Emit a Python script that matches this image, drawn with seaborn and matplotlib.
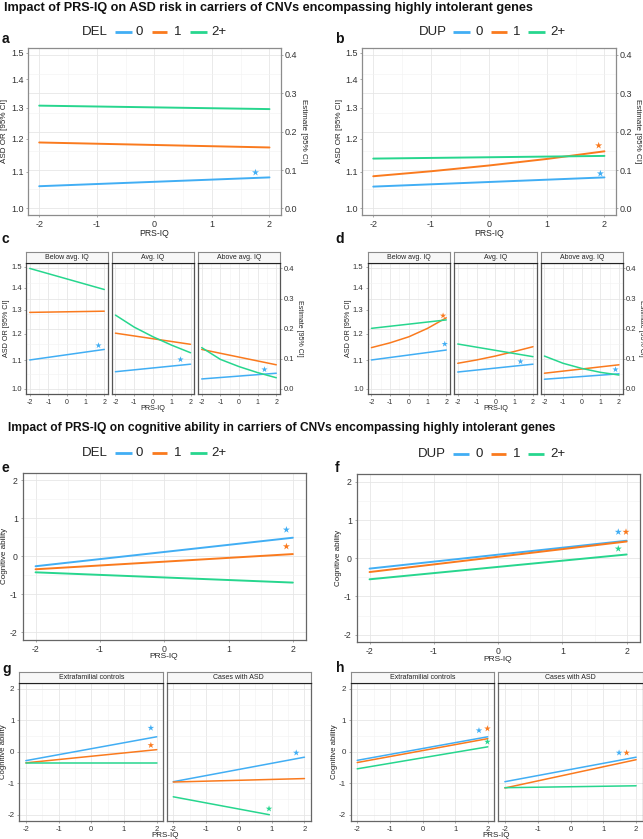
import numpy as np
import pandas as pd
import matplotlib
matplotlib.use("Agg")
import matplotlib.pyplot as plt
import seaborn as sns
from matplotlib.lines import Line2D

sns.set_theme(style="white")
plt.rcParams['font.family'] = ['Liberation Sans', 'DejaVu Sans']

# ---------------- data ----------------
GROUPS = ["0", "1", "2+"]
COLORS = ["#41AEF4", "#FA7A1E", "#27D68E"]
PAL = dict(zip(GROUPS, COLORS))

PRS2 = [-2, 2]
PRS5 = [-2, -1, 0, 1, 2]

OR_TICKS = [1.0, 1.1, 1.2, 1.3, 1.4, 1.5]
OR_LABELS = ["1.0", "1.1", "1.2", "1.3", "1.4", "1.5"]
EST_TICKS = [0.0, 0.1, 0.2, 0.3, 0.4]
EST_LABELS = ["0.0", "0.1", "0.2", "0.3", "0.4"]
PRS_TICKS = [-2, -1, 0, 1, 2]
COG_TICKS = [-2, -1, 0, 1, 2]

IQ_FACETS = ["Below avg. IQ", "Avg. IQ", "Above avg. IQ"]
COHORT_FACETS = ["Extrafamilial controls", "Cases with ASD"]

# panel a: DEL, ASD risk (estimate scale)
a_0 = [0.058, 0.081]
a_1 = [0.172, 0.159]
a_2 = [0.268, 0.259]
a_star_grp, a_star_x, a_star_y = ["0"], [1.75], [0.095]

# panel b: DUP, ASD risk
b_0 = [0.057, 0.081]
b_1 = [0.084, 0.097, 0.112, 0.129, 0.149]
b_2 = [0.130, 0.137]
b_star_grp, b_star_x, b_star_y = ["1", "0"], [1.9, 1.93], [0.164, 0.091]

# panel c: DEL by IQ group
c_below_0 = [0.096, 0.131]
c_below_1 = [0.254, 0.258]
c_below_2 = [0.400, 0.330]
c_avg_0 = [0.057, 0.082]
c_avg_1 = [0.185, 0.148]
c_avg_2 = [0.245, 0.205, 0.173, 0.145, 0.120]
c_above_0 = [0.033, 0.052]
c_above_1 = [0.131, 0.080]
c_above_2 = [0.137, 0.098, 0.074, 0.054, 0.037]
c_star_grp = [["0"], ["0"], ["0"]]
c_star_x = [[1.65], [1.43], [1.35]]
c_star_y = [[0.145], [0.098], [0.065]]

# panel d: DUP by IQ group
d_below_0 = [0.096, 0.129]
d_below_1 = [0.137, 0.153, 0.173, 0.201, 0.236]
d_below_2 = [0.201, 0.229]
d_avg_0 = [0.056, 0.082]
d_avg_1 = [0.085, 0.096, 0.109, 0.124, 0.140]
d_avg_2 = [0.149, 0.107]
d_above_0 = [0.032, 0.050]
d_above_1 = [0.052, 0.080]
d_above_2 = [0.109, 0.085, 0.068, 0.055, 0.046]
d_star_grp = [["1", "0"], ["0"], ["0"]]
d_star_x = [[1.83, 1.92], [1.33], [1.80]]
d_star_y = [[0.243, 0.149], [0.093], [0.065]]

# panel e: DEL, cognitive ability
e_0 = [-0.26, 0.49]
e_1 = [-0.34, 0.06]
e_2 = [-0.42, -0.69]
e_star_grp, e_star_x, e_star_y = ["0", "1"], [1.90, 1.90], [0.70, 0.26]

# panel f: DUP, cognitive ability
f_0 = [-0.27, 0.46]
f_1 = [-0.36, 0.44]
f_2 = [-0.55, 0.10]
f_star_grp, f_star_x, f_star_y = ["0", "1", "2+"], [1.87, 1.99, 1.87], [0.69, 0.69, 0.25]

# panel g: DEL by cohort
g_ctrl_0 = [-0.28, 0.48]
g_ctrl_1 = [-0.35, 0.07]
g_ctrl_2 = [-0.34, -0.34]
g_case_0 = [-0.95, -0.17]
g_case_1 = [-0.96, -0.85]
g_case_2_x = [-2, 0.93]
g_case_2 = [-1.43, -2.0]
g_star_grp = [["0", "1"], ["2+", "0"]]
g_star_x = [[1.82, 1.82], [0.92, 1.75]]
g_star_y = [[0.76, 0.21], [-1.81, -0.03]]

# panel h: DUP by cohort
h_ctrl_0 = [-0.27, 0.48]
h_ctrl_1 = [-0.34, 0.42]
h_ctrl_2 = [-0.54, 0.16]
h_case_0 = [-0.95, -0.17]
h_case_1 = [-1.15, -0.25]
h_case_2 = [-1.14, -1.08]
h_star_grp = [["0", "1", "2+"], ["0", "1"]]
h_star_x = [[1.73, 1.99, 1.99], [1.48, 1.71]]
h_star_y = [[0.68, 0.74, 0.32], [-0.03, -0.03]]

# ---------------- layout helpers ----------------
W, H = 643, 839
fig = plt.figure(figsize=(W / 100, H / 100), dpi=100)
fig.patch.set_facecolor("white")


def rect(x0, y0, x1, y1):
    return [x0 / W, 1 - y1 / H, (x1 - x0) / W, (y1 - y0) / H]


def FX(x):
    return x / W


def FY(y):
    return 1 - y / H


def build(series):
    rows = []
    for g, xs, ys in series:
        for x, y in zip(xs, ys):
            rows.append((g, x, y))
    return pd.DataFrame(rows, columns=["grp", "prs", "val"])


def draw_lines(ax, series, lw):
    df = build(series)
    sns.lineplot(data=df, x="prs", y="val", hue="grp", hue_order=GROUPS,
                 palette=PAL, units="grp", estimator=None, legend=False,
                 linewidth=lw, ax=ax)
    ax.set_xlabel("")
    ax.set_ylabel("")


def draw_stars(ax, grps, xs, ys, size):
    df = pd.DataFrame(dict(grp=grps, prs=xs, val=ys))
    sns.scatterplot(data=df, x="prs", y="val", hue="grp", hue_order=GROUPS,
                    palette=PAL, marker="*", s=size, linewidth=0,
                    legend=False, ax=ax, zorder=5)
    ax.set_xlabel("")
    ax.set_ylabel("")


GRID_MAJ = "#E6E6E6"
GRID_MIN = "#F2F2F2"


def style(ax, ylim, yticks, yminor, border, xls, yls, left=True, bottom=True):
    ax.set_facecolor("white")
    ax.set_xlim(-2.2, 2.2)
    ax.set_ylim(*ylim)
    ax.set_xticks(PRS_TICKS)
    ax.set_xticks([-1.5, -0.5, 0.5, 1.5], minor=True)
    ax.set_yticks(yticks)
    ax.set_yticks(yminor, minor=True)
    ax.grid(which="major", color=GRID_MAJ, lw=0.6)
    ax.grid(which="minor", color=GRID_MIN, lw=0.4)
    ax.set_axisbelow(True)
    for s in ax.spines.values():
        s.set_color(border)
        s.set_linewidth(0.9)
    ax.tick_params(which="major", length=1.5, width=0.5, color="#888888",
                   labelsize=xls, labelcolor="#333333", pad=2,
                   left=left, bottom=bottom)
    ax.tick_params(axis="y", labelsize=yls)
    ax.tick_params(which="minor", length=0)
    ax.set_xticklabels([str(t) for t in PRS_TICKS])


def or_axes(ax, left_labels, right_labels, lsize):
    ax.set_yticklabels([])
    ax.tick_params(axis="y", left=False, right=False, labelleft=False)
    if left_labels:
        sec = ax.secondary_yaxis("left")
        sec.set_yticks(list(np.log(OR_TICKS)))
        sec.set_yticklabels(OR_LABELS)
        sec.tick_params(length=1.5, width=0.5, color="#888888", labelsize=lsize,
                        labelcolor="#333333", pad=1.5)
        sec.spines["left"].set_visible(False)
    if right_labels:
        sec2 = ax.secondary_yaxis("right")
        sec2.set_yticks(EST_TICKS)
        sec2.set_yticklabels(EST_LABELS)
        sec2.tick_params(length=1.5, width=0.5, color="#888888", labelsize=lsize,
                         labelcolor="#333333", pad=1.0)
        sec2.spines["right"].set_visible(False)


def legend(label, y, label_x, segs, texts):
    fig.text(FX(label_x), FY(y), label, ha="left", va="center", fontsize=9.5,
             color="#222222")
    for g, (x0, x1), tx in zip(GROUPS, segs, texts):
        fig.add_artist(Line2D([FX(x0), FX(x1)], [FY(y), FY(y)],
                              transform=fig.transFigure, color=PAL[g], lw=2.0,
                              solid_capstyle="butt"))
        fig.text(FX(tx), FY(y), g, ha="left", va="center", fontsize=9.5,
                 color="#222222")


def strip(x0, y0, x1, y1, text, size):
    s = fig.add_axes(rect(x0, y0, x1, y1))
    s.set_facecolor("#F7F7F7")
    s.set_xticks([])
    s.set_yticks([])
    for sp in s.spines.values():
        sp.set_color("#8A8A8A")
        sp.set_linewidth(0.8)
    s.spines["bottom"].set_color("#222222")
    s.text(0.5, 0.5, text, ha="center", va="center", fontsize=size,
           color="#222222", transform=s.transAxes)


def letter(x, y, s):
    fig.text(FX(x), FY(y), s, ha="left", va="center", fontsize=10,
             fontweight="bold", color="#111111")


def label(x, y, s, rot=0, size=5.8):
    fig.text(FX(x), FY(y), s, ha="center", va="center", rotation=rot,
             fontsize=size, color="#222222")


renderer = fig.canvas.get_renderer()


def fit_title(x, y, s, target_w):
    t = fig.text(FX(x), FY(y), s, ha="left", va="center", fontsize=9,
                 fontweight="bold", color="#111111")
    bb = t.get_window_extent(renderer=renderer)
    t.set_fontsize(9 * target_w / bb.width)
    return t


EST_LIM = (-0.017, 0.419)
EST_MAJ = [0.0, 0.1, 0.2, 0.3, 0.4]
EST_MIN = [0.05, 0.15, 0.25, 0.35]
COG_LIM = (-2.2, 2.2)
COG_MIN = [-1.5, -0.5, 0.5, 1.5]

# ---------------- titles ----------------
fit_title(4, 7.5, "Impact of PRS-IQ on ASD risk in carriers of CNVs encompassing highly intolerant genes", 529)
fit_title(8, 427.5, "Impact of PRS-IQ on cognitive ability in carriers of CNVs encompassing highly intolerant genes", 543)

# ---------------- panel a ----------------
ax = fig.add_axes(rect(27.7, 47.7, 281, 215))
style(ax, EST_LIM, EST_MAJ, EST_MIN, "#8C8C8C", 6.5, 6.5)
draw_lines(ax, [("0", PRS2, a_0), ("1", PRS2, a_1), ("2+", PRS2, a_2)], 1.4)
draw_stars(ax, a_star_grp, a_star_x, a_star_y, 28)
or_axes(ax, True, True, 6.5)
letter(2, 39, "a")
legend("DEL", 32, 82, [(115, 132), (152, 167), (190, 207)], [136, 174, 211])
label(154, 233, "PRS-IQ", size=6.2)
label(5, 131, "ASD OR [95% CI]", rot=90)
label(304, 131, "Estimate [95% CI]", rot=270)

# ---------------- panel b ----------------
ax = fig.add_axes(rect(361.7, 47.7, 616, 215))
style(ax, EST_LIM, EST_MAJ, EST_MIN, "#8C8C8C", 6.5, 6.5)
draw_lines(ax, [("0", PRS2, b_0), ("1", PRS5, b_1), ("2+", PRS2, b_2)], 1.4)
draw_stars(ax, b_star_grp, b_star_x, b_star_y, 28)
or_axes(ax, True, True, 6.5)
letter(335, 39, "b")
legend("DUP", 32.3, 419, [(453, 470), (491, 507), (528, 545)], [475, 513, 550])
label(489, 233, "PRS-IQ", size=6.2)
label(340, 131, "ASD OR [95% CI]", rot=90)
label(637, 131, "Estimate [95% CI]", rot=270)

# ---------------- panel c / d (facets by IQ) ----------------
def iq_facets(xs, series_list, star_grp, star_x, star_y, letter_x, ylab_x, est_x):
    for i, ((x0, x1), series) in enumerate(zip(xs, series_list)):
        ax = fig.add_axes(rect(x0, 262.7, x1, 394))
        style(ax, EST_LIM, EST_MAJ, EST_MIN, "#555555", 5.0, 5.5)
        draw_lines(ax, series, 1.1)
        draw_stars(ax, star_grp[i], star_x[i], star_y[i], 22)
        or_axes(ax, i == 0, i == 2, 5.5)
        strip(x0, 251.7, x1, 262.7, IQ_FACETS[i], 5.0)
    letter(letter_x, 239, "c" if letter_x < 100 else "d")
    label((xs[1][0] + xs[1][1]) / 2, 408, "PRS-IQ", size=5.2)
    label(ylab_x, 328, "ASD OR [95% CI]", rot=90, size=5.2)
    label(est_x, 328, "Estimate [95% CI]", rot=270, size=5.0)


iq_facets([(26, 108), (111.7, 194.3), (198, 280)],
          [[("0", PRS2, c_below_0), ("1", PRS2, c_below_1), ("2+", PRS2, c_below_2)],
           [("0", PRS2, c_avg_0), ("1", PRS2, c_avg_1), ("2+", PRS5, c_avg_2)],
           [("0", PRS2, c_above_0), ("1", PRS2, c_above_1), ("2+", PRS5, c_above_2)]],
          c_star_grp, c_star_x, c_star_y, 2, 6, 299.5)

iq_facets([(367.7, 450), (454, 536.7), (540.7, 622.7)],
          [[("0", PRS2, d_below_0), ("1", PRS5, d_below_1), ("2+", PRS2, d_below_2)],
           [("0", PRS2, d_avg_0), ("1", PRS5, d_avg_1), ("2+", PRS2, d_avg_2)],
           [("0", PRS2, d_above_0), ("1", PRS2, d_above_1), ("2+", PRS5, d_above_2)]],
          d_star_grp, d_star_x, d_star_y, 335, 349, 641)

# ---------------- panel e ----------------
ax = fig.add_axes(rect(22.7, 472.7, 305.7, 640))
style(ax, COG_LIM, COG_TICKS, COG_MIN, "#666666", 6.3, 6.3)
ax.set_yticklabels([str(t) for t in COG_TICKS])
draw_lines(ax, [("0", PRS2, e_0), ("1", PRS2, e_1), ("2+", PRS2, e_2)], 1.4)
draw_stars(ax, e_star_grp, e_star_x, e_star_y, 28)
letter(2, 468, "e")
legend("DEL", 453.3, 82, [(115, 132), (152, 167), (190, 207)], [136, 174, 211])
label(164, 657, "PRS-IQ", size=6.0)
label(5, 556, "Cognitive ability", rot=90)

# ---------------- panel f ----------------
ax = fig.add_axes(rect(356.7, 474.3, 639.5, 642.3))
style(ax, COG_LIM, COG_TICKS, COG_MIN, "#666666", 6.3, 6.3)
ax.set_yticklabels([str(t) for t in COG_TICKS])
draw_lines(ax, [("0", PRS2, f_0), ("1", PRS2, f_1), ("2+", PRS2, f_2)], 1.4)
draw_stars(ax, f_star_grp, f_star_x, f_star_y, 28)
letter(335, 468, "f")
legend("DUP", 454, 418, [(453, 469), (491, 506), (528, 544)], [475, 513, 550])
label(498, 659.3, "PRS-IQ", size=6.0)
label(338, 558, "Cognitive ability", rot=90)


# ---------------- panel g / h (facets by cohort) ----------------
def cohort_facets(xs, series_list, star_grp, star_x, star_y, let, let_x, ylab_x):
    for i, ((x0, x1), series) in enumerate(zip(xs, series_list)):
        ax = fig.add_axes(rect(x0, 682.7, x1, 821))
        style(ax, COG_LIM, COG_TICKS, COG_MIN, "#666666", 5.5, 5.8,
              left=(i == 0))
        if i == 0:
            ax.set_yticklabels([str(t) for t in COG_TICKS])
        else:
            ax.set_yticklabels([])
        draw_lines(ax, series, 1.1)
        draw_stars(ax, star_grp[i], star_x[i], star_y[i], 24)
        strip(x0, 671.7, x1, 682.7, COHORT_FACETS[i], 5.0)
    letter(let_x, 668.5, let)
    label(xs[0][1] + 1.7, 835.7, "PRS-IQ", size=5.8)
    label(ylab_x, 752, "Cognitive ability", rot=90, size=5.6)


cohort_facets([(19.3, 163.3), (166.7, 311)],
              [[("0", PRS2, g_ctrl_0), ("1", PRS2, g_ctrl_1), ("2+", PRS2, g_ctrl_2)],
               [("0", PRS2, g_case_0), ("1", PRS2, g_case_1), ("2+", g_case_2_x, g_case_2)]],
              g_star_grp, g_star_x, g_star_y, "g", 2, 4)

cohort_facets([(350.7, 494.3), (498.3, 642.7)],
              [[("0", PRS2, h_ctrl_0), ("1", PRS2, h_ctrl_1), ("2+", PRS2, h_ctrl_2)],
               [("0", PRS2, h_case_0), ("1", PRS2, h_case_1), ("2+", PRS2, h_case_2)]],
              h_star_grp, h_star_x, h_star_y, "h", 336, 335)

fig.savefig("out.png", dpi=100, facecolor="white")
